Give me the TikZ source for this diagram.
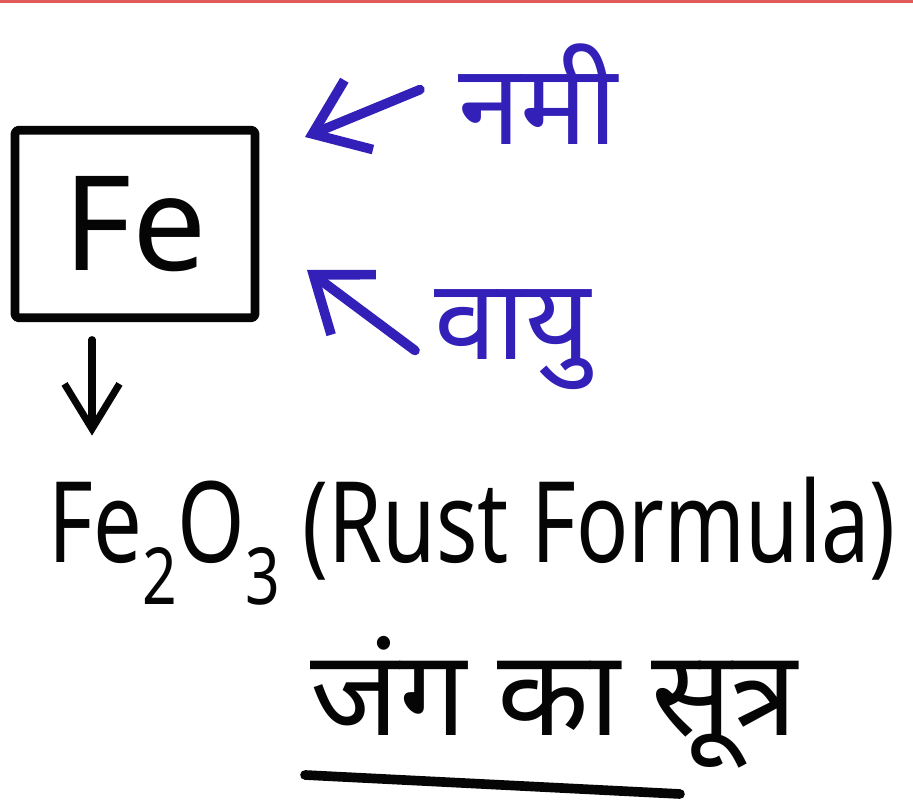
\documentclass[tikz,border=0pt]{standalone}
\usepackage{fontspec}
\setmainfont{Noto Sans}
\newfontfamily\deva[Script=Devanagari]{Noto Sans}
\usetikzlibrary{arrows.meta, positioning, calc}
\definecolor{inkblue}{HTML}{3320B8}
\definecolor{inkblack}{HTML}{050505}
\definecolor{topred}{HTML}{E05A5A}

\begin{document}
\begin{tikzpicture}[x=0.02cm, y=-0.02cm, line cap=round, line join=round,
  febox/.style={draw=inkblack, line width=5pt, minimum width=4.8cm, minimum height=3.75cm,
                rounded corners=2pt, font=\fontsize{75}{80}\selectfont, text=inkblack},
  blueword/.style={font=\deva\fontsize{64}{70}\selectfont, text=inkblue, inner sep=0pt},
  blackword/.style={font=\fontsize{64}{70}\selectfont, text=inkblack, inner sep=0pt},
  bluearrow/.style={draw=inkblue, line width=5.5pt, -{Straight Barb[length=1cm, width=1.5cm]}},
  blackarrow/.style={draw=inkblack, line width=4pt, -{Straight Barb[length=0.9cm, width=1.1cm]}}]

% Frame
\useasboundingbox (0,0) rectangle (913,803);
\fill[white] (0,0) rectangle (913,803);
\draw[topred, line width=1.5pt] (0,1.5) -- (913,1.5);

% Fe box
\node[febox] (fe) at (135,224) {Fe};

% Moisture and air
\node[blueword, anchor=base west] (nami) at (458,145) {नमी};
\node[blueword, anchor=base west] (vayu) at (434,360) {वायु};

\coordinate (namitip) at (305,137);
\coordinate (vayutip) at (307,270);
\draw[bluearrow] ([xshift=-0.76cm, yshift=0.1cm]nami.west) -- (namitip);
\draw[bluearrow] ([xshift=-0.38cm, yshift=0.8cm]vayu.south west) -- (vayutip);

% Rust
\node[blackword, anchor=base west] (rust) at (48,563)
  {\scalebox{0.77}[1]{Fe\textsubscript{2}O\textsubscript{3} (Rust Formula)}};
\draw[blackarrow] ([xshift=-0.86cm, yshift=-0.35cm]fe.south) -- ++(0,96);

% Hindi caption
\node[blueword, text=inkblack, anchor=base west, font=\deva\fontsize{68}{74}\selectfont] (sutra) at (310,735) {जंग का सूत्र};
\draw[inkblack, line width=5.5pt] ([xshift=-0.1cm, yshift=-0.8cm]sutra.base west) -- ++(375,19);

\end{tikzpicture}
\end{document}
